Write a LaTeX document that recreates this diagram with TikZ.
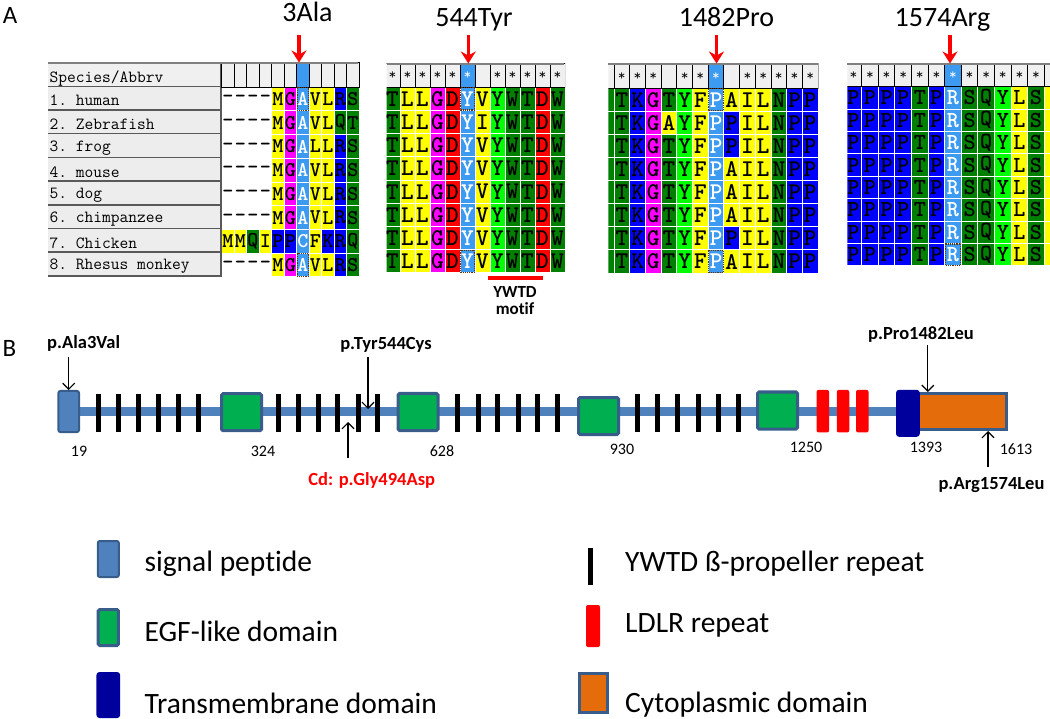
\documentclass[tikz,border=0pt]{standalone}
\usepackage{fontspec}
\setmainfont{Carlito}[Ligatures=NoCommon]
\usetikzlibrary{arrows.meta,backgrounds}

% alignment colours (MEGA style)
\definecolor{aahl}{HTML}{3C9BF0}
\definecolor{aayel}{HTML}{FFFF00}
\definecolor{aamag}{HTML}{FF00FF}
\definecolor{aablu}{HTML}{0000FF}
\definecolor{aadg}{HTML}{008000}
\definecolor{aalg}{HTML}{00FF00}
\definecolor{aared}{HTML}{FF0000}
\colorlet{aaM}{aayel}\colorlet{aaV}{aayel}\colorlet{aaL}{aayel}
\colorlet{aaI}{aayel}\colorlet{aaF}{aayel}\colorlet{aaA}{aayel}
\colorlet{aaG}{aamag}
\colorlet{aaR}{aablu}\colorlet{aaP}{aablu}\colorlet{aaK}{aablu}
\colorlet{aaS}{aadg}\colorlet{aaQ}{aadg}\colorlet{aaT}{aadg}
\colorlet{aaW}{aadg}\colorlet{aaN}{aadg}
\colorlet{aaD}{aared}\colorlet{aaY}{aalg}\colorlet{aaC}{aahl}
\colorlet{aax}{white}
% cut-off edge columns, colour only
\colorlet{aag}{aadg}\colorlet{aay}{aayel}
\definecolor{hdrgray}{HTML}{F0F0F0}
\definecolor{namebg}{HTML}{EDEDED}
% protein colours
\definecolor{bbblue}{HTML}{4F81BD}
\definecolor{edgeblue}{HTML}{385D8A}
\definecolor{egfgreen}{HTML}{00B050}
\definecolor{tmblue}{HTML}{00009C}
\definecolor{cytoorange}{HTML}{E46C0A}

\newcommand\setfs[1]{\fontsize{#1}{#1}\selectfont}

\tikzset{
  cell/.style={inner sep=0pt, outer sep=0pt, font=\ttfamily\bfseries\setfs{\blkfs}},
  hcell/.style={draw=black, line width=1pt, inner sep=0pt, font=\ttfamily\setfs{15}},
  selbox/.style={densely dotted, line width=1.2pt, draw=black!60!orange},
  namerule/.style={draw=black!65, line width=1.5pt},
  topline/.style={draw=gray, line width=2pt},
  redarrow/.style={-{Stealth[length=12pt,width=15pt,inset=4pt]}, line width=3.5pt, draw=red},
  motiftext/.style={font=\bfseries\setfs{17}},
  panel/.style={font=\setfs{25}},
  sitelab/.style={anchor=base, font=\setfs{28}},
  % protein schematic
  backbone/.style={draw=bbblue, line width=9pt},
  sigpep/.style={draw=edgeblue, line width=2pt, fill=bbblue, rounded corners=2pt,
    minimum width=20.6pt, minimum height=41pt, inner sep=0pt},
  egf/.style={draw=edgeblue, line width=3pt, fill=egfgreen, rounded corners=1.5pt,
    minimum width=40pt, minimum height=37pt, inner sep=0pt},
  ldlr/.style={fill=red, rounded corners=2pt, minimum width=12.5pt,
    minimum height=42.5pt, inner sep=0pt},
  tmdom/.style={fill=tmblue, rounded corners=3pt, minimum width=23.7pt,
    minimum height=47pt, inner sep=0pt},
  cyto/.style={draw=edgeblue, line width=3pt, fill=cytoorange,
    minimum width=88pt, minimum height=36pt, inner sep=0pt},
  ywtd/.style={fill=black, minimum width=5pt, minimum height=38pt, inner sep=0pt},
  mut/.style={font=\bfseries\setfs{18.5}},
  resnum/.style={font=\setfs{16}},
  mutarrow/.style={-{Straight Barb[length=6pt,width=12pt]}, line width=1.2pt},
  legtext/.style={anchor=base west, font=\setfs{29.5}}
}

% one alignment row: block name, row number, residues (x = gap, g/y = bare edge cell)
\newcommand\aarow[3]{%
  \foreach \c [count=\i from 0] in {#3} {
    \ifnum\i=\blkhl\relax \def\fc{aahl}\def\tc{white}\else \edef\fc{aa\c}\def\tc{black}\fi
    \node[cell, fill=\fc, text=\tc, minimum width={(\blkw-1)*1pt},
      minimum height={(\blkp-1)*1pt}]
      (#1r#2c\i) at ({\blkx+(\i+0.5)*\blkw}, {\blky+(#2-0.5)*\blkp})
      {\if x\c -\else\if g\c\else\if y\c\else\c\fi\fi\fi};
  }}
% header row: block name, marks (s = star, o = empty)
\newcommand\aahead[2]{%
  \foreach \m [count=\i from 0] in {#2} {
    \ifnum\i=\blkhl\relax \def\fc{aahl}\def\tc{white}\else \def\fc{hdrgray}\def\tc{black}\fi
    \node[hcell, fill=\fc, text=\tc, minimum width={\blkw*1pt},
      minimum height={\blkhh*1pt}]
      (#1h\i) at ({\blkx+(\i+0.5)*\blkw}, {\blkhy+0.5*\blkhh}) {\if s\m\raisebox{-0.45em}{*}\fi};
  }}

\begin{document}
\begin{tikzpicture}[x=1pt, y=-1pt]
  \useasboundingbox (0,0) rectangle (1050,719);

  % ---------- panel A ----------
  \node[panel] (pA) at (10,15) {A};

  % species names
  \fill[hdrgray] (48,64) rectangle (221.7,86.5);
  \draw[namerule] (48,86.5) -- (221.7,86.5);
  \node[anchor=west, font=\ttfamily\setfs{17}] (spechead) at (46,78) {Species/Abbrv};
  \foreach \nr/\nm in {1/human, 2/Zebrafish, 3/frog, 4/mouse, 5/dog,
      6/chimpanzee, 7/Chicken, 8/Rhesus monkey} {
    \fill[namebg] (48,{87.3+(\nr-1)*23.7}) rectangle (221.7,{87.3+\nr*23.7});
    \draw[namerule] (48,{86.3+\nr*23.7}) -- (221.7,{86.3+\nr*23.7});
    \node[anchor=west, font=\ttfamily\setfs{17}] (name\nr) at (46,{88.8+(\nr-0.5)*23.7}) {\nr.\ \nm};
  }
  \draw[namerule] (221,63) -- (221,277);

  % block 1: 3Ala
  \def\blkx{221.7}\def\blky{87.3}\def\blkw{12.5}\def\blkp{23.7}
  \def\blkhl{6}\def\blkfs{21}\def\blkhy{63}\def\blkhh{24.3}
  \aahead{b1}{o,o,o,o,o,o,o,o,o,o,o}
  \aarow{b1}{1}{x,x,x,x,M,G,A,V,L,R,S}
  \aarow{b1}{2}{x,x,x,x,M,G,A,V,L,Q,T}
  \aarow{b1}{3}{x,x,x,x,M,G,A,L,L,R,S}
  \aarow{b1}{4}{x,x,x,x,M,G,A,V,L,R,S}
  \aarow{b1}{5}{x,x,x,x,M,G,A,V,L,R,S}
  \aarow{b1}{6}{x,x,x,x,M,G,A,V,L,R,S}
  \aarow{b1}{7}{M,M,Q,I,P,P,C,F,K,R,Q}
  \aarow{b1}{8}{x,x,x,x,M,G,A,V,L,R,S}
  \draw[selbox] (b1r1c6.north west) rectangle (b1r1c6.south east);
  \draw[selbox] (b1r8c6.north west) rectangle (b1r8c6.south east);
  \draw[topline] (48,63) -- (358.3,63);

  % block 2: 544Tyr
  \begin{scope}
    \clip (386.7,55) rectangle (565,276);
    \def\blkx{385}\def\blky{87.3}\def\blkw{15}\def\blkp{23.2}
    \def\blkhl{5}\def\blkfs{24}\def\blkhy{64}\def\blkhh{23.3}
    \aahead{b2}{s,s,s,s,s,s,o,s,s,s,s,s}
    \aarow{b2}{1}{T,L,L,G,D,Y,V,Y,W,T,D,W}
    \aarow{b2}{2}{T,L,L,G,D,Y,I,Y,W,T,D,W}
    \aarow{b2}{3}{T,L,L,G,D,Y,V,Y,W,T,D,W}
    \aarow{b2}{4}{T,L,L,G,D,Y,V,Y,W,T,D,W}
    \aarow{b2}{5}{T,L,L,G,D,Y,V,Y,W,T,D,W}
    \aarow{b2}{6}{T,L,L,G,D,Y,V,Y,W,T,D,W}
    \aarow{b2}{7}{T,L,L,G,D,Y,V,Y,W,T,D,W}
    \aarow{b2}{8}{T,L,L,G,D,Y,V,Y,W,T,D,W}
    \draw[selbox] (b2r1c5.north west) rectangle (b2r1c5.south east);
    \draw[selbox] (b2r8c5.north west) rectangle (b2r8c5.south east);
  \end{scope}
  \draw[topline] (386.7,64) -- (564.3,64);
  % YWTD motif
  \draw[draw=red, line width=4pt] (488,278.5) -- (543,278.5);
  \node[motiftext] (ywtdlab) at (515,292) {YWTD};
  \node[motiftext] (motiflab) at (515,309) {motif};

  % block 3: 1482Pro
  \begin{scope}
    \clip (608.3,55) rectangle (818.3,276);
    \def\blkx{598.3}\def\blky{88.3}\def\blkw{15.7}\def\blkp{23.1}
    \def\blkhl{7}\def\blkfs{24}\def\blkhy{64}\def\blkhh{24.3}
    \aahead{b3}{o,s,s,s,o,s,s,s,o,s,s,s,s,s}
    \aarow{b3}{1}{g,T,K,G,T,Y,F,P,A,I,L,N,P,P}
    \aarow{b3}{2}{g,T,K,G,A,Y,F,P,P,I,L,N,P,P}
    \aarow{b3}{3}{g,T,K,G,T,Y,F,P,P,I,L,N,P,P}
    \aarow{b3}{4}{g,T,K,G,T,Y,F,P,A,I,L,N,P,P}
    \aarow{b3}{5}{g,T,K,G,T,Y,F,P,A,I,L,N,P,P}
    \aarow{b3}{6}{g,T,K,G,T,Y,F,P,A,I,L,N,P,P}
    \aarow{b3}{7}{g,T,K,G,T,Y,F,P,P,I,L,N,P,P}
    \aarow{b3}{8}{g,T,K,G,T,Y,F,P,A,I,L,N,P,P}
    \draw[selbox] (b3r1c7.north west) rectangle (b3r1c7.south east);
    \draw[selbox] (b3r8c7.north west) rectangle (b3r8c7.south east);
  \end{scope}
  \draw[topline] (608.3,64) -- (818.3,64);

  % block 4: 1574Arg
  \begin{scope}
    \clip (847.3,55) rectangle (1050,276);
    \def\blkx{845.1}\def\blky{86.7}\def\blkw{16.6}\def\blkp{22.4}
    \def\blkhl{6}\def\blkfs{23}\def\blkhy{64}\def\blkhh{22.7}
    \aahead{b4}{s,s,s,s,s,s,s,s,s,s,s,s,o}
    \foreach \nr in {1,...,8} {
      \aarow{b4}{\nr}{P,P,P,P,T,P,R,S,Q,Y,L,S,y}
    }
    \draw[selbox] (b4r8c6.north west) rectangle (b4r8c6.south east);
  \end{scope}
  \draw[topline] (847.3,64) -- (1050,64);

  % site labels and red arrows
  \node[sitelab] (s3) at (307.5,21.7) {3Ala};
  \node[sitelab] (s544) at (474,26.7) {544Tyr};
  \node[sitelab] (s1482) at (726.5,26.7) {1482Pro};
  \node[sitelab] (s1574) at (942.5,26.7) {1574Arg};
  \coordinate (ar3) at (299,35);
  \coordinate (ar544) at (468.3,35);
  \coordinate (ar1482) at (716.5,35);
  \coordinate (ar1574) at (950,35);
  \draw[redarrow] (ar3) -- (ar3 |- b1h6.north);
  \draw[redarrow] (ar544) -- (ar544 |- b2h5.north);
  \draw[redarrow] (ar1482) -- (ar1482 |- b3h7.north);
  \draw[redarrow] (ar1574) -- (ar1574 |- b4h6.north);

  % ---------- panel B ----------
  \node[panel] (pB) at (9.3,348) {B};

  % domains
  \node[sigpep] (sp) at (68.7,411.5) {};
  \foreach \bx [count=\n] in {98.6,118.2,138.5,158.1,178.4,198.6,
      278.7,298.3,318.2,337.8,358.1,377.7,
      457.8,478,497.6,518,537.6,557.8,
      637.6,657.8,677.8,698,718.3,738}
    \node[ywtd] (yw\n) at (\bx,412.5) {};
  \node[egf] (egf1) at (241.5,412.2) {};
  \node[egf] (egf2) at (418,412) {};
  \node[egf] (egf3) at (598.5,416) {};
  \node[egf] (egf4) at (777.6,410.5) {};
  \node[ldlr] (ldlr1) at (822.8,411.2) {};
  \node[ldlr] (ldlr2) at (843,411.2) {};
  \node[ldlr] (ldlr3) at (862.3,411.2) {};
  \node[cyto] (cyto) at (962.5,411.5) {};
  \node[tmdom] (tm) at (907.9,413.3) {};
  \begin{pgfonlayer}{background}
    \draw[backbone] (sp.east) -- (sp.east -| tm.west);
  \end{pgfonlayer}

  % residue numbers
  \node[resnum] (n19) at (79,451) {19};
  \node[resnum] (n324) at (263,451) {324};
  \node[resnum] (n628) at (442,451) {628};
  \node[resnum] (n930) at (622,449) {930};
  \node[resnum] (n1250) at (806,447) {1250};
  \node[resnum] (n1393) at (926,447) {1393};
  \node[resnum] (n1613) at (1016,449) {1613};

  % mutations
  \node[mut] (ala3) at (83.6,343) {p.Ala3Val};
  \node[mut] (tyr544) at (386,345) {p.Tyr544Cys};
  \node[mut, text=red] (gly494) at (371.7,480.5) {Cd: p.Gly494Asp};
  \node[mut] (pro1482) at (921,335) {p.Pro1482Leu};
  \node[mut] (arg1574) at (991.5,485.5) {p.Arg1574Leu};
  \coordinate (m3) at (68.7,357);
  \coordinate (m544) at (368,357);
  \coordinate (m544tip) at (368,409);
  \coordinate (m494) at (348,458);
  \coordinate (m494tip) at (348,422);
  \coordinate (m1482) at (927.8,345);
  \coordinate (m1574) at (988,467);
  \draw[mutarrow] (m3) -- (sp.north);
  \draw[mutarrow] (m544) -- (m544tip);
  \draw[mutarrow] (m494) -- (m494tip);
  \draw[mutarrow] (m1482) -- (m1482 |- cyto.north);
  \draw[mutarrow] (m1574) -- (m1574 |- cyto.south);

  % ---------- legend ----------
  \node[sigpep, minimum width=21pt, minimum height=36pt] (legsp) at (108.3,559) {};
  \node[egf, minimum width=20.3pt, minimum height=36pt] (legegf) at (108.3,627.5) {};
  \node[tmdom, minimum height=46pt] (legtm) at (108.3,695) {};
  \node[ywtd, minimum height=37pt] (legyw) at (590,566.5) {};
  \node[ldlr, minimum width=14pt, minimum height=42pt] (legldlr) at (593,626) {};
  \node[cyto, minimum width=28pt, minimum height=39pt] (legcyto) at (593.5,693) {};
  \node[legtext] (tsp) at (141,571) {signal peptide};
  \node[legtext] (tegf) at (141,641) {EGF-like domain};
  \node[legtext] (ttm) at (141,713) {Transmembrane domain};
  \node[legtext] (tyw) at (621.7,571) {YWTD ß-propeller repeat};
  \node[legtext] (tldlr) at (621.7,632) {LDLR repeat};
  \node[legtext] (tcyto) at (621.7,712) {Cytoplasmic domain};
\end{tikzpicture}
\end{document}
